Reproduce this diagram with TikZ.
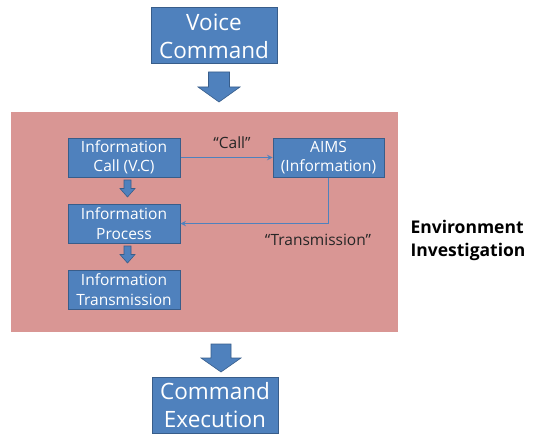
\documentclass[tikz,border=0pt]{standalone}
\usepackage{fontspec}
\setmainfont{Open Sans}
\usetikzlibrary{positioning}

\definecolor{boxblue}{RGB}{79,129,189}
\definecolor{boxedge}{RGB}{56,93,138}
\definecolor{envpink}{RGB}{217,150,148}

% block arrow pointing down: x centre, y top, length, head width, shaft width
\newcommand{\downblock}[5]{%
  \fill[boxblue, draw=boxedge, line width=0.6pt]
    (#1-#5/2,#2) -- (#1+#5/2,#2) -- (#1+#5/2,#2+#3/2) -- (#1+#4/2,#2+#3/2)
    -- (#1,#2+#3) -- (#1-#4/2,#2+#3/2) -- (#1-#5/2,#2+#3/2) -- cycle;}

\begin{document}
\begin{tikzpicture}[
                    x=1pt, y=-1pt,
                    node distance=26pt,
                    bigbox/.style={
                        rectangle,
                        draw=boxedge,
                        fill=boxblue,
                        line width=1pt,
                        text=white,
                        minimum width=126pt,
                        minimum height=56pt,
                        align=center,
                        inner sep=0pt,
                        font=\fontsize{22.5}{28}\selectfont
                    },
                    infobox/.style={
                        rectangle,
                        draw=boxedge,
                        fill=boxblue,
                        line width=1pt,
                        text=white,
                        minimum width=112pt,
                        minimum height=39pt,
                        align=center,
                        inner sep=0pt,
                        font=\fontsize{15.5}{19.5}\selectfont
                    },
                    link/.style={
                        draw=boxblue,
                        line width=1.4pt,
                        ->, >=stealth
                    },
                    tag/.style={
                        text=black!85,
                        font=\fontsize{15.5}{18}\selectfont
                    }
                ]
                    \useasboundingbox (0,0) rectangle (537,433);
                    \clip (0,0) rectangle (537,433);

                    \node[fill=envpink, minimum width=387pt, minimum height=220pt] (env) at (204.5,222) {};

                    \node[bigbox] (voice) at (214,36) {Voice\\Command};
                    \node[bigbox] (exec) at (215,405.5) {Command\\Execution};

                    \node[infobox] (call) at (124,157.5) {Information\\Call (V.C)};
                    \node[infobox] (process) [below=of call] {Information\\Process};
                    \node[infobox] (trans) [below=of process] {Information\\Transmission};
                    \node[infobox, minimum width=111pt] (aims) at (328.5,157.5) {AIMS\\(Information)};

                    \node[tag] (calltag) at (232,143) {“Call”};
                    \node[tag] (transtag) at (318,240) {“Transmission”};
                    \node[anchor=west, align=left, font=\fontsize{17.5}{23}\selectfont\bfseries] (envtag) at (407,240.5) {Environment\\Investigation};

                    % Block arrows
                    \downblock{219}{72}{30}{42}{21}
                    \downblock{127.5}{180}{17}{15}{7}
                    \downblock{127.5}{246}{17}{15}{7}
                    \downblock{221}{344}{28}{40}{20}

                    % Edges
                    \draw[link] (call) -- (aims);
                    \draw[link] (aims.south) |- (process.east);
                \end{tikzpicture}
\end{document}
